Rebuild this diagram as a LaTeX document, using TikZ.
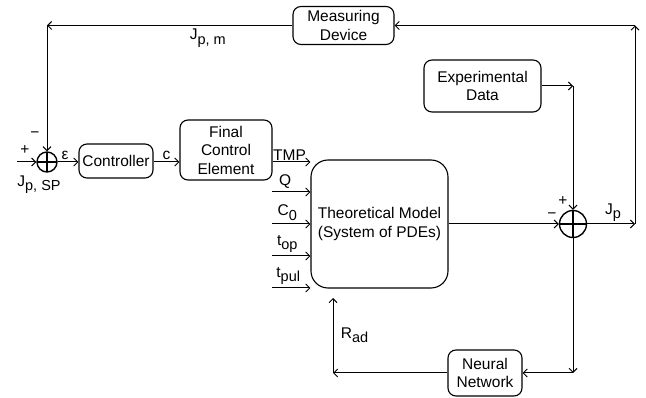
\documentclass[tikz,border=0pt]{standalone}
\usepackage{fontspec}
\setmainfont{Liberation Sans}
\usetikzlibrary{arrows.meta,calc}

% lowered index in the same upright font
\newcommand{\lowidx}[1]{\raisebox{-0.5ex}{\fontsize{14.5}{14.5}\selectfont #1}}

\tikzset{
  block/.style={draw, rounded corners=8pt, line width=1.1pt, align=center, inner sep=2pt},
  sumjunction/.style={draw, circle, line width=1.4pt, inner sep=0pt,
    path picture={\draw[line width=1.5pt]
      (path picture bounding box.north) -- (path picture bounding box.south)
      (path picture bounding box.west) -- (path picture bounding box.east);}},
  flow/.style={-{Straight Barb[length=4pt,width=8pt]}, line width=1pt},
}

\begin{document}
\begin{tikzpicture}[x=1pt, y=-1pt, font=\fontsize{15.5}{18.5}\selectfont]
  \useasboundingbox (0,0) rectangle (646,398);
  % Blocks
  \node[sumjunction, minimum size=20pt] (sumL) at (47,162) {};
  \node[block, minimum width=74pt, minimum height=34pt] (ctrl) at (116,161) {Controller};
  \node[block, minimum width=92pt, minimum height=60pt] (fce) at (226,150) {Final\\Control\\Element};
  \node[block, rounded corners=17pt, minimum width=137pt, minimum height=128pt] (model) at (379.5,224) {Theoretical Model\\(System of PDEs)};
  \node[block, minimum width=101pt, minimum height=38pt] (meas) at (343.5,25.5) {Measuring\\Device};
  \node[block, minimum width=117pt, minimum height=52pt] (expdata) at (482.5,86) {Experimental\\Data};
  \node[sumjunction, minimum size=27pt] (sumR) at (573,224) {};
  \node[block, minimum width=74pt, minimum height=46pt] (neural) at (485,373) {Neural\\Network};
  % Corner points and free ends
  \coordinate (spIn) at (17,162);
  \coordinate (fbCorner) at (sumL |- meas);
  \coordinate (expCorner) at (sumR |- expdata);
  \coordinate (jpOut) at (635,224);
  \coordinate (jpTop) at (jpOut |- meas);
  \coordinate (nnCorner) at (sumR |- neural);
  \coordinate (radCorner) at (333,373);
  \coordinate (radTop) at (333,298);
  \coordinate (qIn) at (272,192);
  \coordinate (cIn) at (272,224);
  \coordinate (topIn) at (272,256);
  \coordinate (tpulIn) at (272,288);
  % Control loop
  \draw[flow] (spIn) -- (sumL.west);
  \node at ([shift={(-22,-12)}]sumL) {+};
  \node at ([shift={(-12,-27)}]sumL) {−};
  \node at ([shift={(-8,23)}]sumL) {J\lowidx{p, SP}};
  \draw[flow] (sumL.east) -- node[above, xshift=-3pt, yshift=-1pt]{ε} (sumL -| ctrl.west);
  \draw[flow] (ctrl.east |- sumL) -- node[above, yshift=-1pt]{c} (sumL -| fce.west);
  \draw[flow] ([yshift=-12pt]fce.east) -- node[above, xshift=-2pt, yshift=-2pt]{TMP} ([yshift=-12pt]fce.east -| model.west);
  % Model inputs
  \draw[flow] (qIn) -- node[above, xshift=-6pt]{Q} (qIn -| model.west);
  \draw[flow] (cIn) -- node[above, xshift=-4pt]{C\lowidx{0}} (cIn -| model.west);
  \draw[flow] (topIn) -- node[above, xshift=-4pt]{t\lowidx{op}} (topIn -| model.west);
  \draw[flow] (tpulIn) -- node[above, xshift=-3pt]{t\lowidx{pul}} (tpulIn -| model.west);
  % Comparison with data
  \draw[flow] (model.east) -- (sumR.west);
  \node at ([shift={(-21,-8)}]sumR) {−};
  \node at ([shift={(-10,-23)}]sumR) {+};
  \draw[flow] (expdata.east) -- (expCorner);
  \draw[flow] (expCorner) -- (sumR.north);
  \draw[flow] (sumR.east) -- node[above, xshift=2pt, yshift=-1pt]{J\lowidx{p}} (jpOut);
  \draw[flow] (jpOut) -- (jpTop);
  \draw[flow] (jpTop) -- (meas.east);
  % Feedback
  \draw[flow] (meas.west) -- node[below, pos=0.345]{J\lowidx{p, m}} (fbCorner);
  \draw[flow] (fbCorner) -- (sumL.north);
  % Neural network branch
  \draw[flow] (sumR.south) -- (nnCorner);
  \draw[flow] (nnCorner) -- (neural.east);
  \draw[flow] (neural.west) -- (radCorner);
  \draw[flow] (radCorner) -- node[right, xshift=4pt]{R\lowidx{ad}} (radTop);
\end{tikzpicture}
\end{document}
